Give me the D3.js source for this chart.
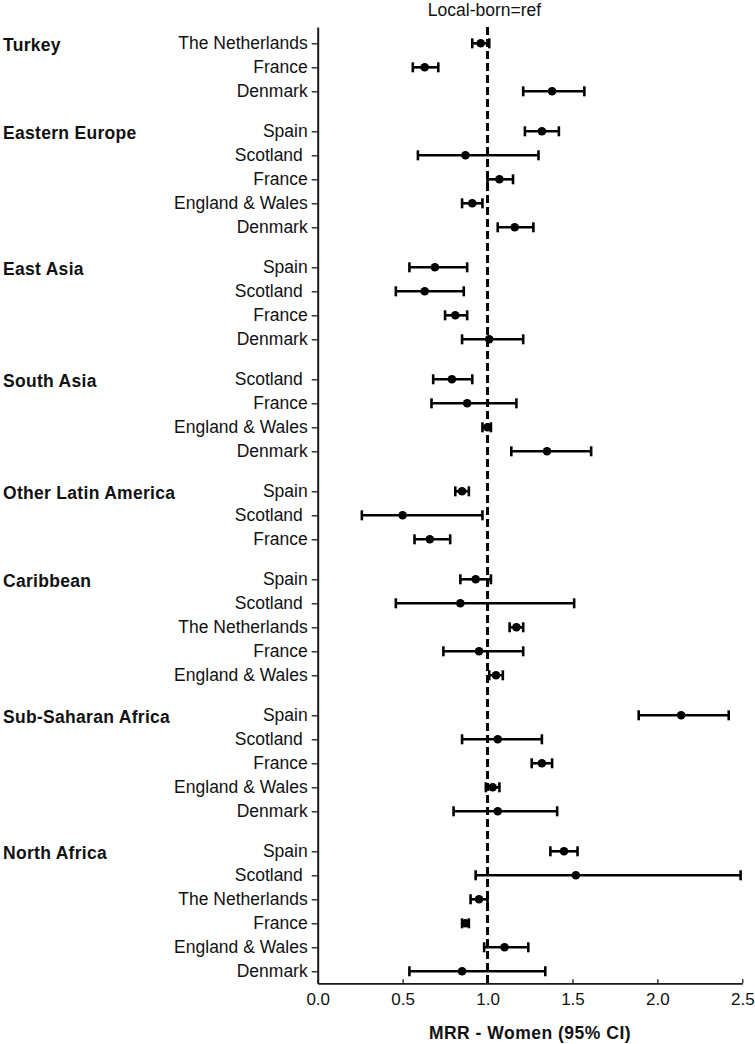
<!DOCTYPE html>
<html>
<head>
<meta charset="utf-8">
<script src="https://cdn.jsdelivr.net/npm/d3@7"></script>
<style>
  html, body { margin: 0; padding: 0; background: #fff; }
  svg { display: block; font-family: "Liberation Sans", Arial, sans-serif; }
</style>
</head>
<body>
<svg id="chart" width="755" height="1044"></svg>
<script>
// ---- Data (top to bottom) ----
const groupNames = ["Turkey", "Eastern Europe", "East Asia", "South Asia",
  "Other Latin America", "Caribbean", "Sub-Saharan Africa", "North Africa"];

const rowGroup = [
  0, 0, 0,
  1, 1, 1, 1, 1,
  2, 2, 2, 2,
  3, 3, 3, 3,
  4, 4, 4,
  5, 5, 5, 5, 5,
  6, 6, 6, 6, 6,
  7, 7, 7, 7, 7, 7
];

const rowCountry = [
  "The Netherlands", "France", "Denmark",
  "Spain", "Scotland ", "France", "England & Wales", "Denmark",
  "Spain", "Scotland ", "France", "Denmark",
  "Scotland ", "France", "England & Wales", "Denmark",
  "Spain", "Scotland ", "France",
  "Spain", "Scotland ", "The Netherlands", "France", "England & Wales",
  "Spain", "Scotland ", "France", "England & Wales", "Denmark",
  "Spain", "Scotland ", "The Netherlands", "France", "England & Wales", "Denmark"
];

const rowMRR = [
  0.96, 0.63, 1.38,
  1.32, 0.87, 1.07, 0.91, 1.16,
  0.69, 0.63, 0.81, 1.01,
  0.79, 0.88, 1.00, 1.35,
  0.85, 0.50, 0.66,
  0.93, 0.84, 1.17, 0.95, 1.05,
  2.14, 1.06, 1.32, 1.03, 1.06,
  1.45, 1.52, 0.95, 0.87, 1.10, 0.85
];

const rowLow = [
  0.91, 0.56, 1.21,
  1.22, 0.59, 1.00, 0.85, 1.06,
  0.54, 0.46, 0.75, 0.85,
  0.68, 0.67, 0.97, 1.14,
  0.81, 0.26, 0.57,
  0.84, 0.46, 1.13, 0.74, 1.01,
  1.89, 0.85, 1.26, 0.99, 0.80,
  1.37, 0.93, 0.90, 0.85, 0.98, 0.54
];

const rowHigh = [
  1.01, 0.71, 1.57,
  1.42, 1.30, 1.15, 0.97, 1.27,
  0.88, 0.86, 0.88, 1.21,
  0.91, 1.17, 1.02, 1.61,
  0.89, 0.97, 0.78,
  1.02, 1.51, 1.21, 1.21, 1.09,
  2.42, 1.32, 1.38, 1.07, 1.41,
  1.53, 2.49, 1.00, 0.89, 1.24, 1.34
];

const xTicks = [0.0, 0.5, 1.0, 1.5, 2.0, 2.5];
const refValue = 1.0;
const titleText = "Local-born=ref";
const xTitle = "MRR - Women (95% CI)";

// ---- Layout ----
const groupGap = 2 / 3; // extra spacing between groups, in row units
const rows = rowCountry.map((c, i) => ({
  country: c, group: rowGroup[i],
  mrr: rowMRR[i], lo: rowLow[i], hi: rowHigh[i],
  pos: i + rowGroup[i] * groupGap, idx: i
}));
const maxPos = rows[rows.length - 1].pos;

const svg = d3.select("#chart");

const x = d3.scaleLinear().domain([0, 2.5]).range([317.7, 742.3]);
const y = d3.scaleLinear().domain([-0.68, maxPos + 0.5]).range([27, 983.3]);

const axisColor = "#1a1a1a";

// Y axis
const yAxis = svg.append("g")
  .attr("transform", `translate(${x(0)},0)`)
  .call(d3.axisLeft(y)
    .tickValues(rows.map(r => r.pos))
    .tickFormat((d, i) => rows[i].country)
    .tickSizeInner(6).tickSizeOuter(0).tickPadding(4));
yAxis.select(".domain").attr("stroke", axisColor).attr("stroke-width", 2);
yAxis.selectAll(".tick line").attr("stroke", axisColor).attr("stroke-width", 1.3);
yAxis.selectAll(".tick text")
  .attr("fill", "#111")
  .style("font-size", "17.5px")
  .style("white-space", "pre")
  .attr("dy", "0.3em");

// X axis
const xAxis = svg.append("g")
  .attr("transform", `translate(0,${y(maxPos + 0.5)})`)
  .call(d3.axisBottom(x)
    .tickValues(xTicks)
    .tickFormat(d3.format(".1f"))
    .tickSizeInner(-4).tickSizeOuter(0).tickPadding(10));
xAxis.select(".domain").attr("stroke", axisColor).attr("stroke-width", 1.8);
xAxis.selectAll(".tick line").attr("stroke", axisColor).attr("stroke-width", 1.3);
xAxis.selectAll(".tick text")
  .attr("fill", "#111")
  .style("font-size", "17px");

// Group labels
const firstRows = groupNames.map((g, gi) => rows.find(r => r.group === gi));
svg.append("g").selectAll("text")
  .data(firstRows)
  .join("text")
  .attr("x", 3)
  .attr("y", d => y(d.pos))
  .attr("dy", "0.43em")
  .style("font-size", "17.5px")
  .style("font-weight", "bold")
  .style("letter-spacing", "0.3px")
  .attr("fill", "#111")
  .text(d => groupNames[d.group]);

// Reference dashed line
svg.append("line")
  .attr("x1", x(refValue)).attr("x2", x(refValue))
  .attr("y1", y(-0.68)).attr("y2", y(maxPos + 0.5))
  .attr("stroke", "#000")
  .attr("stroke-width", 3)
  .attr("stroke-dasharray", "8,4");

// Error bars
const bars = svg.append("g").selectAll("g")
  .data(rows)
  .join("g");

bars.append("line")
  .attr("x1", d => x(d.lo)).attr("x2", d => x(d.hi))
  .attr("y1", d => y(d.pos)).attr("y2", d => y(d.pos))
  .attr("stroke", "#000").attr("stroke-width", 2.6);

const capH = 5;
bars.append("line")
  .attr("x1", d => x(d.lo)).attr("x2", d => x(d.lo))
  .attr("y1", d => y(d.pos) - capH).attr("y2", d => y(d.pos) + capH)
  .attr("stroke", "#000").attr("stroke-width", 2.6);
bars.append("line")
  .attr("x1", d => x(d.hi)).attr("x2", d => x(d.hi))
  .attr("y1", d => y(d.pos) - capH).attr("y2", d => y(d.pos) + capH)
  .attr("stroke", "#000").attr("stroke-width", 2.6);

bars.append("circle")
  .attr("cx", d => x(d.mrr))
  .attr("cy", d => y(d.pos))
  .attr("r", 4.3)
  .attr("fill", "#000");

// Title at top
svg.append("text")
  .attr("x", x(refValue) - 3)
  .attr("y", 16)
  .attr("text-anchor", "middle")
  .style("font-size", "17.5px")
  .attr("fill", "#111")
  .text(titleText);

// X axis title
svg.append("text")
  .attr("x", (x(0) + x(2.5)) / 2)
  .attr("y", 1039)
  .attr("text-anchor", "middle")
  .style("font-size", "17.5px")
  .style("font-weight", "bold")
  .style("letter-spacing", "0.5px")
  .attr("fill", "#111")
  .text(xTitle);
</script>
</body>
</html>
